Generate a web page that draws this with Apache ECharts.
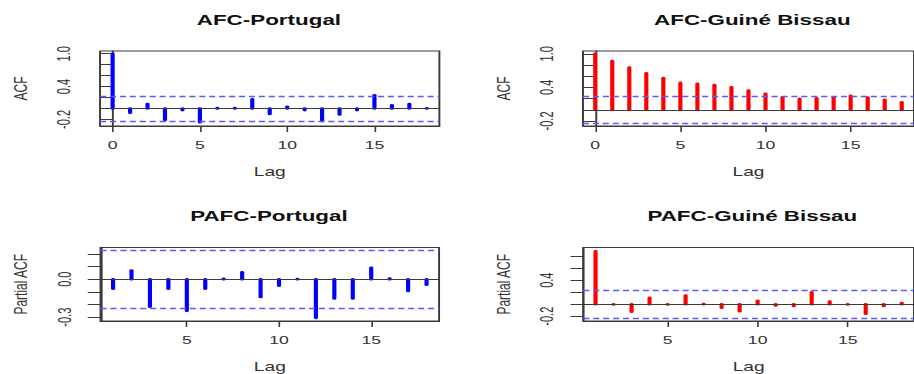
<!DOCTYPE html>
<html>
<head>
<meta charset="utf-8">
<script src="https://cdn.jsdelivr.net/npm/echarts@6/dist/echarts.min.js"></script>
<style>
  html, body { margin: 0; padding: 0; background: #fff; overflow: hidden; }
  #wrap { width: 914px; height: 374px; overflow: hidden; position: relative; }
  #c { width: 571px; height: 374px; transform: scaleX(1.6007); transform-origin: 0 0; }
</style>
</head>
<body>
<div id="wrap"><div id="c"></div></div>
<script>
// ---- data ----
const lagsAcf  = [0, 1, 2, 3, 4, 5, 6, 7, 8, 9, 10, 11, 12, 13, 14, 15, 16, 17, 18];
const lagsPacf = [1, 2, 3, 4, 5, 6, 7, 8, 9, 10, 11, 12, 13, 14, 15, 16, 17, 18];

const acfPortugal  = [1.0, -0.08, 0.08, -0.21, -0.03, -0.25, 0.01, 0.01, 0.17, -0.10, 0.03, -0.03, -0.23, -0.11, -0.03, 0.24, 0.06, 0.08, 0.005];
const acfGuine     = [1.0, 0.87, 0.755, 0.65, 0.565, 0.48, 0.465, 0.44, 0.40, 0.345, 0.285, 0.225, 0.195, 0.207, 0.22, 0.25, 0.22, 0.177, 0.135];
const pacfPortugal = [-0.075, 0.068, -0.217, -0.075, -0.25, -0.075, 0.003, 0.055, -0.14, -0.052, 0.002, -0.305, -0.153, -0.153, 0.09, 0.004, -0.093, -0.044];
const pacfGuine    = [0.88, -0.005, -0.127, 0.105, -0.005, 0.143, 0.002, -0.06, -0.116, 0.056, -0.02, -0.03, 0.197, 0.045, -0.003, -0.16, -0.03, 0.02];

const climPortugal = 0.231;
const climGuine = 0.237;

const titles = ['AFC-Portugal', 'AFC-Guiné Bissau', 'PAFC-Portugal', 'PAFC-Guiné Bissau'];
const yNames = ['ACF', 'ACF', 'Partial ACF', 'Partial ACF'];
const xName = 'Lag';

const xTicksAcf  = [0, 5, 10, 15];
const xTicksPacf = [5, 10, 15];
const yTicksAcf       = [-0.2, 0, 0.2, 0.4, 0.6, 0.8, 1.0];
const yLabelsAcf      = [-0.2, 0.4, 1.0];
const yTicksPacfPt    = [-0.3, -0.2, -0.1, 0, 0.1, 0.2];
const yLabelsPacfPt   = [-0.3, 0.0];
const yTicksPacfGb    = [-0.2, 0, 0.2, 0.4, 0.6, 0.8];
const yLabelsPacfGb   = [-0.2, 0.4];

// ---- layout (unscaled coordinates; the page is stretched horizontally like the reference) ----
const FONT = '"Liberation Sans", Arial, sans-serif';
const panels = [
  { lags: lagsAcf,  vals: acfPortugal,  clim: climPortugal, color: '#0000ff', xmin: -0.72, xmax: 18.72, ymin: -0.32, ymax: 1.05,
    xt: xTicksAcf,  yt: yTicksAcf, yl: yLabelsAcf, grid: { left: 62.5, top: 51, width: 212, height: 75 }, tx: 168, ty: 13.5 },
  { lags: lagsAcf,  vals: acfGuine,     clim: climGuine,    color: '#ff0000', xmin: -0.72, xmax: 18.72, ymin: -0.29, ymax: 1.05,
    xt: xTicksAcf,  yt: yTicksAcf, yl: yLabelsAcf, grid: { left: 364.2, top: 51, width: 212, height: 75 }, tx: 470, ty: 13.5 },
  { lags: lagsPacf, vals: pacfPortugal, clim: climPortugal, color: '#0000ff', xmin: 0.32, xmax: 18.68, ymin: -0.33, ymax: 0.25,
    xt: xTicksPacf, yt: yTicksPacfPt, yl: yLabelsPacfPt, grid: { left: 62.8, top: 247.5, width: 211.5, height: 74 }, tx: 168, ty: 209.5 },
  { lags: lagsPacf, vals: pacfGuine,    clim: climGuine,    color: '#ff0000', xmin: 0.32, xmax: 18.68, ymin: -0.28, ymax: 0.945,
    xt: xTicksPacf, yt: yTicksPacfGb, yl: yLabelsPacfGb, grid: { left: 364.4, top: 247.5, width: 211.5, height: 74 }, tx: 470, ty: 209.5 }
];

const AX = '#3a3a3a';
const DASH = '#5a5aff';
const option = {
  animation: false,
  backgroundColor: '#fff',
  title: [], grid: [], xAxis: [], yAxis: [], series: []
};

panels.forEach((p, i) => {
  option.title.push({
    text: titles[i], left: p.tx, top: p.ty, textAlign: 'center', padding: 0,
    textStyle: { fontFamily: FONT, fontSize: 14, fontWeight: 'bold', color: '#111' }
  });
  option.grid.push(Object.assign({ show: true, borderColor: AX, borderWidth: 1.2, backgroundColor: 'transparent' }, p.grid));
  option.xAxis.push({
    type: 'value', gridIndex: i, min: p.xmin, max: p.xmax,
    name: xName, nameLocation: 'middle', nameGap: 40,
    nameTextStyle: { fontFamily: FONT, fontSize: 12, color: '#333' },
    axisLine: { show: true, onZero: false, lineStyle: { color: AX, width: 1.2 } },
    axisTick: { show: true, customValues: p.xt, length: 6, lineStyle: { color: AX, width: 1 } },
    axisLabel: { customValues: p.xt, margin: 14, fontFamily: FONT, fontSize: 11, color: '#333', formatter: v => String(v) },
    splitLine: { show: false }
  });
  option.yAxis.push({
    type: 'value', gridIndex: i, min: p.ymin, max: p.ymax,
    name: yNames[i], nameLocation: 'middle', nameRotate: 90, nameGap: 44,
    nameTextStyle: { fontFamily: FONT, fontSize: 12, color: '#333' },
    axisLine: { show: true, lineStyle: { color: AX, width: 1.2 } },
    axisTick: { show: true, customValues: p.yt, length: 8, lineStyle: { color: AX, width: 1 } },
    axisLabel: { customValues: p.yl, rotate: 90, margin: 17, fontFamily: FONT, fontSize: 11, color: '#333',
                 formatter: v => v.toFixed(1) },
    splitLine: { show: false }
  });
  const data = p.lags.map((l, k) => [l, p.vals[k]]);
  const color = p.color;
  option.series.push({
    type: 'custom', xAxisIndex: i, yAxisIndex: i, data: data, silent: true, z: 2,
    renderItem: function (params, api) {
      const a = api.coord([api.value(0), 0]);
      const b = api.coord([api.value(0), api.value(1)]);
      return { type: 'line', shape: { x1: a[0], y1: a[1], x2: b[0], y2: b[1] },
               style: { stroke: color, lineWidth: 2.6, lineCap: 'round' } };
    },
    markLine: {
      silent: true, symbol: 'none', animation: false, label: { show: false },
      lineStyle: { color: AX, width: 1, type: 'solid' },
      emphasis: { disabled: true },
      data: [ { yAxis: 0 } ]
    }
  });
  // significance bounds (+/- clim), dashed
  option.series.push({
    type: 'line', xAxisIndex: i, yAxisIndex: i, data: [], silent: true, z: 3,
    markLine: {
      silent: true, symbol: 'none', animation: false, label: { show: false },
      lineStyle: { color: DASH, width: 1.3, type: [3.8, 2.4], opacity: 1 },
      emphasis: { disabled: true },
      data: [ { yAxis: p.clim, lineStyle: { color: DASH } }, { yAxis: -p.clim, lineStyle: { color: DASH } } ]
    }
  });
});

const chart = echarts.init(document.getElementById('c'), null, { renderer: 'svg', width: 571, height: 374 });
chart.setOption(option);
</script>
</body>
</html>
